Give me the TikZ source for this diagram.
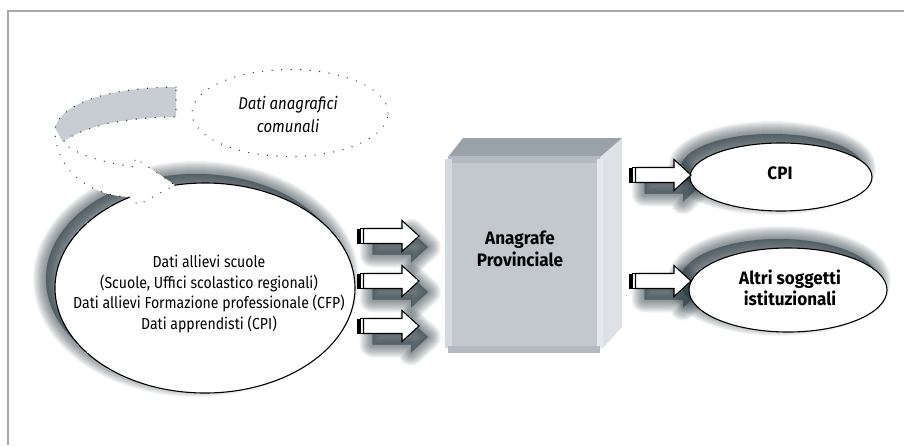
\documentclass[tikz,border=0pt]{standalone}
\usepackage{fontspec}
\setmainfont{Fira Sans}
\newfontfamily\regfont{Fira Sans}[FakeStretch=0.88]
\newfontfamily\bldfont{Fira Sans}[FakeStretch=0.95]
\usetikzlibrary{shapes.geometric}
\definecolor{framec}{HTML}{A8A8A8}
\definecolor{shadowc}{HTML}{2E3D46}
\definecolor{bandc}{HTML}{C8CCD3}
\definecolor{boxfront}{HTML}{C3C8CF}
\definecolor{boxtop}{HTML}{9AA2A9}
\definecolor{boxstrip}{HTML}{B3BAC2}
\definecolor{boxleft}{HTML}{D6DADF}
\definecolor{boxright}{HTML}{E6E8EB}
\definecolor{boxside}{HTML}{DEE1E5}
\newcommand{\blurshadow}[2]{%
  \foreach \lw in {26,24,22,20,18,16,14,12,10,8,6,4,2,0.5}{%
    \path[fill=shadowc, draw=shadowc, opacity=0.055, line width=\lw pt, line join=round, shift={#1}] #2;%
  }%
}
\newcommand{\arrowpath}{(6.5,-7.5) -- (45,-7.5) -- (45,-15.5) -- (62,0) -- (45,15.5) -- (45,7.5) -- (6.5,7.5) -- cycle}
\newcommand{\arrowshadow}[2]{\blurshadow{(#1+9,#2+11)}{\arrowpath}}
\newcommand{\blockarrow}[2]{%
  \begin{scope}[shift={(#1,#2)}]
    \fill[black] (0,-7.5) rectangle (3,7.5);
    \draw[black, line width=0.8pt, fill=white] (3,-7.5) rectangle (6.5,7.5);
    \draw[black, line width=1.1pt, fill=white, line join=miter] \arrowpath;
  \end{scope}}
\begin{document}
\begin{tikzpicture}[x=1pt,y=-1pt,
  dotline/.style={line width=1.4pt, line cap=round, dash pattern=on 0.01pt off 9.5pt, draw=black!80},
  ellbox/.style={ellipse, draw=black, line width=1.1pt, fill=white, inner sep=0pt},
  srcfont/.style={font=\regfont\fontsize{16}{20.7}\selectfont, align=center},
  itfont/.style={font=\regfont\itshape\fontsize{17}{23}\selectfont, align=center},
  bfont/.style={font=\bldfont\bfseries\fontsize{18}{21}\selectfont, align=center},
  ]
\useasboundingbox (0,0) rectangle (904,445);
\fill[white] (0,0) rectangle (904,445);
% frame
\draw[framec, line width=1.6pt] (8,445) -- (8,11) -- (904,11);

% shadows
\blurshadow{(-9,-9)}{(205,288) ellipse [x radius=150, y radius=105]}
\blurshadow{(-9,-9)}{(781,177) ellipse [x radius=91, y radius=34]}
\blurshadow{(-9,-9)}{(788,290) ellipse [x radius=99, y radius=42]}
\arrowshadow{357}{236}
\arrowshadow{357}{281}
\arrowshadow{357}{326}
\arrowshadow{629}{175}
\arrowshadow{629}{281}

% ellipses
\node[ellbox, minimum width=300pt, minimum height=210pt] (src) at (205,288) {};
\node[ellbox, minimum width=182pt, minimum height=68pt] (cpi) at (781,177) {};
\node[ellbox, minimum width=198pt, minimum height=84pt] (altri) at (788,290) {};

% callout tail
\path[fill=white] (176,87) .. controls (120,87) and (62,100) .. (55,128)
  .. controls (54,170) and (90,196) .. (130,197)
  -- (138,205) -- (175,185) -- (135,158) -- (135,167)
  .. controls (105,163) and (75,155) .. (63,142)
  .. controls (85,125) and (130,117) .. (176,117) -- cycle;
\fill[bandc] (176,87) .. controls (120,87) and (62,100) .. (55,128)
  -- (63,142) .. controls (85,125) and (130,117) .. (176,117) -- cycle;
\draw[dotline] (176,87) .. controls (120,87) and (62,100) .. (55,128)
  .. controls (54,170) and (90,196) .. (130,197)
  -- (138,205) -- (175,185) -- (135,158) -- (135,167)
  .. controls (105,163) and (75,155) .. (63,142)
  .. controls (85,125) and (130,117) .. (176,117) -- cycle;

% dotted ellipse
\node[ellipse, dotline, fill=white, minimum width=196pt, minimum height=87pt, inner sep=0pt] (com) at (290,113) {};

% 3D box
\fill[boxside] (600,157) -- (622,138) -- (622,327) -- (603,348) -- (600,348) -- cycle;
\fill[boxtop] (448,157) -- (463,138) -- (622,138) -- (600,157) -- cycle;
\fill[boxstrip] (448,156) rectangle (600,163);
\fill[boxleft] (445,159) rectangle (452,348);
\node[fill=boxfront, minimum width=145pt, minimum height=183pt, inner sep=0pt, anchor=north west] (ana) at (452,163) {};
\fill[boxright] (597,159) rectangle (603,348);
\fill[boxstrip] (448,346) rectangle (600,353);

% arrows
\blockarrow{357}{236}
\blockarrow{357}{281}
\blockarrow{357}{326}
\blockarrow{629}{175}
\blockarrow{629}{281}

% texts
\node[srcfont] (srctext) at (209,294) {Dati allievi scuole\\(Scuole, Uffici scolastico regionali)\\Dati allievi Formazione professionale (CFP)\\Dati apprendisti (CPI)};
\node[itfont] (comtext) at (288,114) {Dati anagrafici\\comunali};
\node[bfont, font=\bldfont\bfseries\fontsize{18}{22}\selectfont] (anatext) at (520,249) {Anagrafe\\Provinciale};
\node[bfont] (cpitext) at (780,173) {CPI};
\node[bfont, font=\bldfont\bfseries\fontsize{18}{20.5}\selectfont] (altritext) at (790,288) {Altri soggetti\\istituzionali};
\end{tikzpicture}
\end{document}
